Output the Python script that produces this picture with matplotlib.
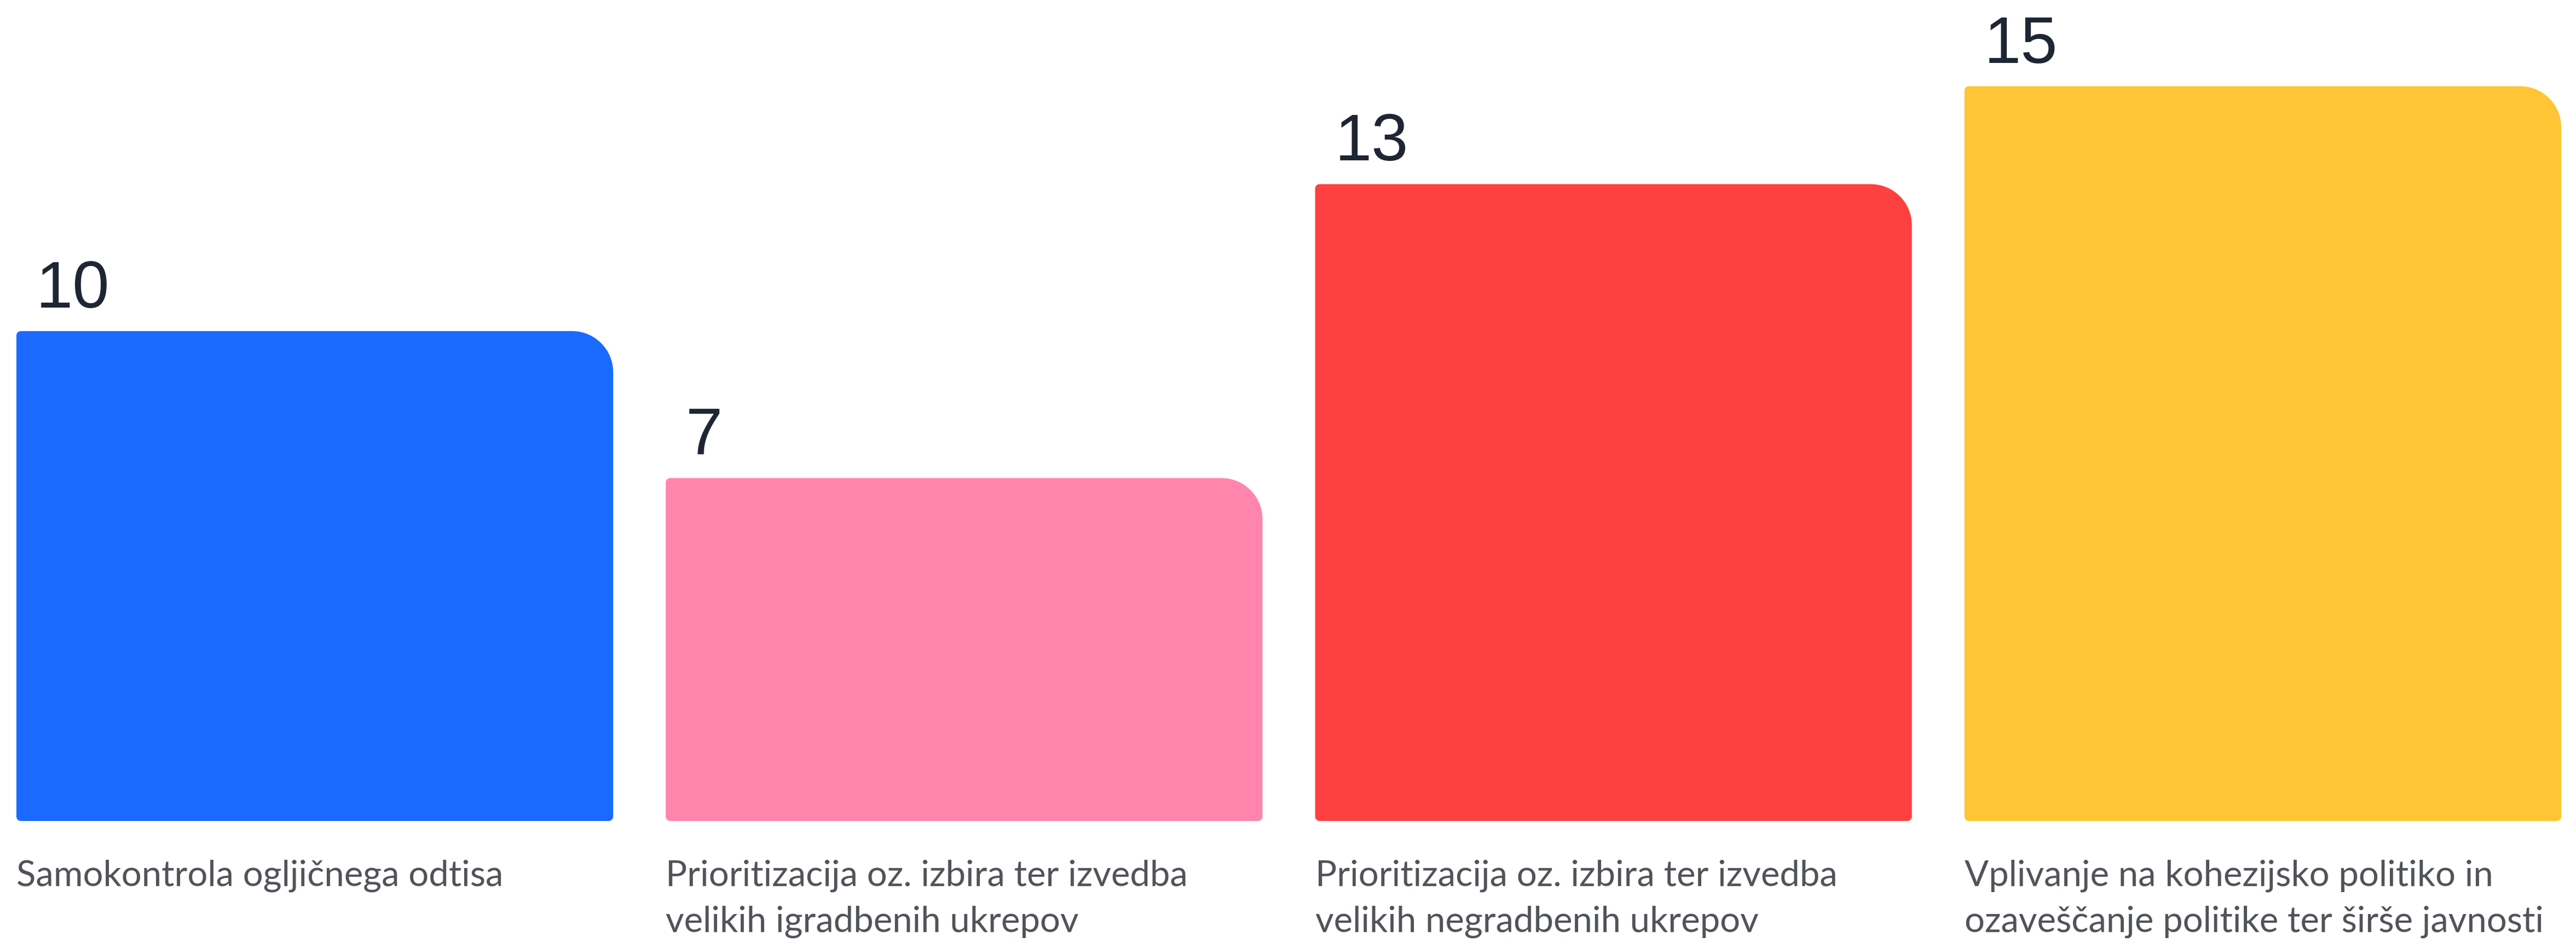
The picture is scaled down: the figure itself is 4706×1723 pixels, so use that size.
import numpy as np
import matplotlib
matplotlib.use('Agg')
import matplotlib.pyplot as plt
from matplotlib.path import Path
from matplotlib.patches import PathPatch

# chart data
categories = [
    "Samokontrola ogljičnega odtisa",
    "Prioritizacija oz. izbira ter izvedba\nvelikih igradbenih ukrepov",
    "Prioritizacija oz. izbira ter izvedba\nvelikih negradbenih ukrepov",
    "Vplivanje na kohezijsko politiko in\nozaveščanje politike ter širše javnosti",
]
values = [10, 7, 13, 15]
colors = ["#1a6aff", "#ff85ad", "#ff4040", "#ffc535"]

W, H, DPI = 4706, 1724, 100
BAR_W = 0.919


def rounded_bar(ax, x0, y0, w, h, r_tr, r_small, color):
    # corner radii given in pixels, converted to data units
    inv = ax.transData.inverted()
    p0 = inv.transform((0, 0))
    def rx(px):
        return inv.transform((px, 0))[0] - p0[0]
    def ry(px):
        return inv.transform((0, px))[1] - p0[1]
    x1, y1 = x0 + w, y0 + h
    a, b = rx(r_tr), ry(r_tr)
    c, d = rx(r_small), ry(r_small)
    k = 0.5523
    verts = [
        (x0 + c, y0),
        (x1 - c, y0),
        (x1 - c + c * k, y0), (x1, y0 + d - d * k), (x1, y0 + d),
        (x1, y1 - b),
        (x1, y1 - b + b * k), (x1 - a + a * k, y1), (x1 - a, y1),
        (x0 + c, y1),
        (x0 + c - c * k, y1), (x0, y1 - d + d * k), (x0, y1 - d),
        (x0, y0 + d),
        (x0, y0 + d - d * k), (x0 + c - c * k, y0), (x0 + c, y0),
        (x0 + c, y0),
    ]
    codes = [Path.MOVETO, Path.LINETO,
             Path.CURVE4, Path.CURVE4, Path.CURVE4,
             Path.LINETO,
             Path.CURVE4, Path.CURVE4, Path.CURVE4,
             Path.LINETO,
             Path.CURVE4, Path.CURVE4, Path.CURVE4,
             Path.LINETO,
             Path.CURVE4, Path.CURVE4, Path.CURVE4,
             Path.CLOSEPOLY]
    ax.add_patch(PathPatch(Path(verts, codes), facecolor=color,
                           edgecolor='none'))


fig = plt.figure(figsize=(W / DPI, H / DPI), dpi=DPI)
fig.patch.set_facecolor('white')
left_px, right_px, bottom_px = 30, 4679, 223
ax = fig.add_axes([left_px / W, bottom_px / H,
                   (right_px - left_px) / W, (H - bottom_px) / H])
ax.set_xlim(-BAR_W / 2, len(values) - 1 + BAR_W / 2)
ax.set_ylim(0, (H - bottom_px) / 89.5)
ax.axis('off')

x = np.arange(len(values))
bars = ax.bar(x, values, width=BAR_W, color='none')
for rect, col in zip(bars, colors):
    rect.set_visible(False)
    rounded_bar(ax, rect.get_x(), rect.get_y(), rect.get_width(),
                rect.get_height(), 75, 8, col)

for rect, v, cat in zip(bars, values, categories):
    ax.annotate(str(v), (rect.get_x(), rect.get_height()),
                xytext=(36, 44), textcoords='offset pixels',
                ha='left', va='baseline', fontsize=87,
                family='Liberation Sans', color='#1e2533')
    ax.annotate(cat, (rect.get_x(), 0), xytext=(0, -70),
                textcoords='offset pixels', ha='left', va='top',
                fontsize=47, family='Lato', color='#505459',
                linespacing=1.5, annotation_clip=False)

fig.savefig('out.png', dpi=DPI, facecolor='white')
